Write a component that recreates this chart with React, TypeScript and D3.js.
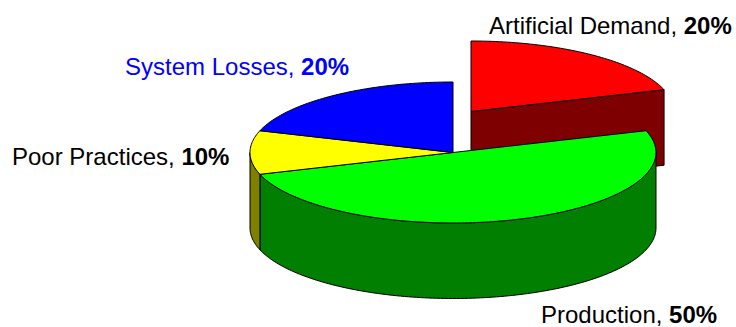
import React from "react";
import * as d3 from "d3";

// Share of total demand by category, clockwise from twelve o'clock.
const categories = ["Artificial Demand", "Production", "Poor Practices", "System Losses"];
const shares = [20, 50, 10, 20];
const topColors = ["#ff0000", "#00ff00", "#ffff00", "#0000ff"];
const wallColors = ["#7f0000", "#007f00", "#7f7f00", "#00007f"];
const labelColors = ["#000000", "#000000", "#000000", "#0000ff"];

const WIDTH = 736;
const HEIGHT = 327;
const CX = 453;
const CY = 152.5;
const RX = 203;
const RY = 70.5;
const DEPTH = 75.5;
const EXPLODE: [number, number][] = [[18, -41], [0, 0], [0, 0], [0, 0]];
const LABEL_POS: [number, number][] = [[489, 34], [541, 323], [12, 164.5], [125, 75]];

const slices = d3.pie<number>().sort(null).startAngle(0).endAngle(2 * Math.PI)(shares);

const rimX = d3.scaleLinear().domain([-1, 1]).range([-RX, RX]);
const rimY = d3.scaleLinear().domain([-1, 1]).range([RY, -RY]);
const toPath = d3.line<[number, number]>().x((p) => p[0]).y((p) => p[1]);

// Points along the projected rim between two pie angles.
function rim(a0: number, a1: number, cx: number, cy: number): [number, number][] {
  const n = Math.max(2, Math.ceil(Math.abs(a1 - a0) / 0.02));
  return d3.range(n + 1).map((i) => {
    const a = a0 + ((a1 - a0) * i) / n;
    return [cx + rimX(Math.sin(a)), cy + rimY(Math.cos(a))] as [number, number];
  });
}

function topFace(a0: number, a1: number, cx: number, cy: number) {
  return toPath([[cx, cy], ...rim(a0, a1, cx, cy)]) + "Z";
}

// Outer wall of the cylinder, limited to the part that faces the viewer.
function outerWall(a0: number, a1: number, cx: number, cy: number) {
  const from = Math.max(a0, Math.PI / 2);
  const to = Math.min(a1, (3 * Math.PI) / 2);
  if (to <= from) return null;
  const upper = rim(from, to, cx, cy);
  const lower = rim(to, from, cx, cy + DEPTH);
  return toPath([...upper, ...lower]) + "Z";
}

// Cut face along a radius, visible where a slice has been pulled out.
function radialWall(a: number, cx: number, cy: number) {
  const [edge] = rim(a, a, cx, cy);
  return toPath([[cx, cy], edge, [edge[0], edge[1] + DEPTH], [cx, cy + DEPTH]]) + "Z";
}

const stroke = { stroke: "#000", strokeWidth: 1, strokeLinejoin: "round" as const };

export default function App() {
  const pulled = slices.filter((_, i) => EXPLODE[i][0] !== 0 || EXPLODE[i][1] !== 0);
  const seated = slices.filter((s) => !pulled.includes(s));
  return (
    <svg
      width={WIDTH}
      height={HEIGHT}
      viewBox={`0 0 ${WIDTH} ${HEIGHT}`}
      style={{ position: "absolute", left: 0, top: 0, background: "#fff" }}
    >
      {pulled.map((s) => {
        const [dx, dy] = EXPLODE[s.index];
        return (
          <g key={s.index} {...stroke}>
            <path d={radialWall(s.endAngle, CX + dx, CY + dy)} fill={wallColors[s.index]} />
            <path d={topFace(s.startAngle, s.endAngle, CX + dx, CY + dy)} fill={topColors[s.index]} />
          </g>
        );
      })}
      {seated.map((s) => {
        const d = outerWall(s.startAngle, s.endAngle, CX, CY);
        return d ? <path key={s.index} d={d} fill={wallColors[s.index]} {...stroke} /> : null;
      })}
      {seated.map((s) => (
        <path
          key={s.index}
          d={topFace(s.startAngle, s.endAngle, CX, CY)}
          fill={topColors[s.index]}
          {...stroke}
        />
      ))}
      {categories.map((c, i) => (
        <text
          key={c}
          x={LABEL_POS[i][0]}
          y={LABEL_POS[i][1]}
          fontFamily="'Liberation Sans', Arial, sans-serif"
          fontSize={24}
          fill={labelColors[i]}
        >
          {c}, <tspan fontWeight="bold">{shares[i]}%</tspan>
        </text>
      ))}
    </svg>
  );
}
